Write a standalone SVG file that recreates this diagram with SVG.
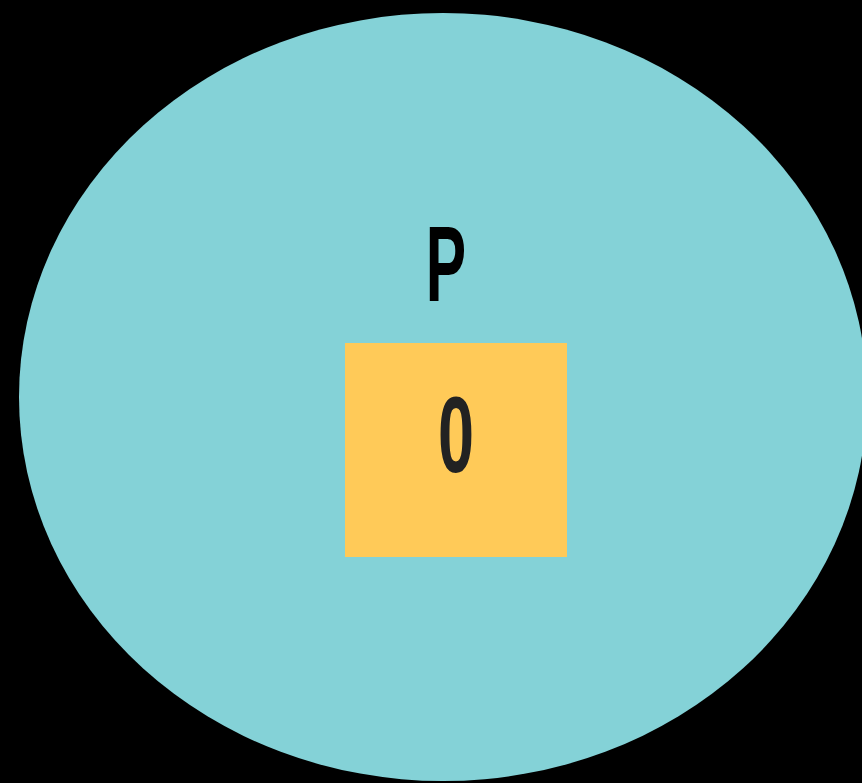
<svg xmlns="http://www.w3.org/2000/svg" width="862" height="783" viewBox="0 0 862 783">
  <style>
    .lbl { font-family: "Liberation Sans", "DejaVu Sans", sans-serif; font-weight: bold; text-anchor: middle; font-size: 108px; }
  </style>
  <rect x="0" y="0" width="862" height="783" fill="#000000"/>
  <g id="node-P">
    <ellipse cx="443" cy="397" rx="424" ry="384" fill="#84D2D7"/>
    <text class="lbl" fill="#000000" transform="translate(446,301) scale(0.56,1)" x="0" y="0">P</text>
  </g>
  <g id="node-0">
    <rect x="345" y="343" width="222" height="214" fill="#FFCA58"/>
    <text class="lbl" fill="#222222" transform="translate(456,472) scale(0.6,1)" x="0" y="0">0</text>
  </g>
  <g id="connectors"/>
</svg>
